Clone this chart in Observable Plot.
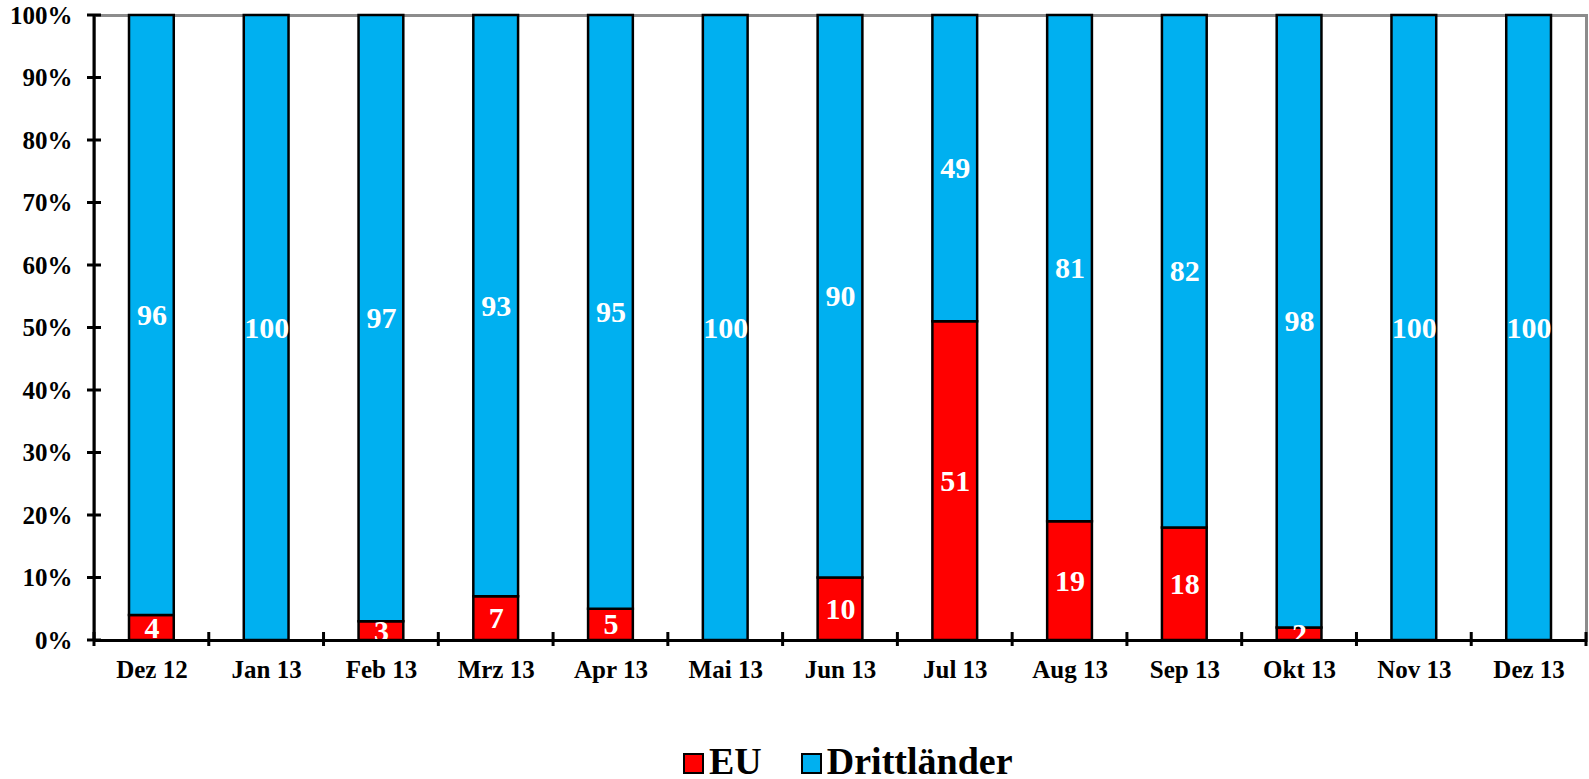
<!DOCTYPE html>
<html>
<head>
<meta charset="utf-8">
<script src="https://cdn.jsdelivr.net/npm/d3@7"></script>
<script src="https://cdn.jsdelivr.net/npm/@observablehq/plot@0.6"></script>
<style>
  html, body { margin: 0; padding: 0; background: #fff; }
  #wrap { position: relative; width: 1589px; height: 779px; font-family: "Liberation Serif", "Times New Roman", serif; }
  #legend { position: absolute; top: 742px; left: 683px; font-size: 38px; line-height: 38px; font-weight: bold; white-space: nowrap; color: #000; }
  #legend .sw { display: inline-block; width: 17px; height: 17px; border: 2.5px solid #000; vertical-align: baseline; margin-right: 5px; }
  #legend .item { display: inline-block; margin-right: 39px; }
</style>
</head>
<body>
<div id="wrap">
  <div id="chart"></div>
  <div id="legend"></div>
</div>
<script>
const months = ["Dez 12", "Jan 13", "Feb 13", "Mrz 13", "Apr 13", "Mai 13", "Jun 13", "Jul 13", "Aug 13", "Sep 13", "Okt 13", "Nov 13", "Dez 13"];
const euValues = [4, 0, 3, 7, 5, 0, 10, 51, 19, 18, 2, 0, 0];
const drittValues = [96, 100, 97, 93, 95, 100, 90, 49, 81, 82, 98, 100, 100];
const seriesNames = ["EU", "Drittländer"];
const seriesColors = ["#FF0000", "#00B0F0"];
const yTicks = [0, 10, 20, 30, 40, 50, 60, 70, 80, 90, 100];

const data = months.flatMap((m, i) => [
  {month: m, series: "EU", value: euValues[i]},
  {month: m, series: "Drittländer", value: drittValues[i]}
]);

const chart = Plot.plot({
  width: 1589,
  height: 700,
  marginLeft: 94,
  marginRight: 3,
  marginTop: 15,
  marginBottom: 60,
  style: {fontFamily: '"Liberation Serif", "Times New Roman", serif', background: "#fff", color: "#000"},
  x: {domain: months, paddingInner: 0.61, paddingOuter: 0.305, round: false, label: null},
  y: {domain: [0, 100], label: null},
  color: {domain: seriesNames, range: seriesColors},
  marks: [
    Plot.frame({stroke: "#8c8c8c", strokeWidth: 3}),
    Plot.barY(data, {x: "month", y: "value", fill: "series", z: "series", stroke: "black", strokeWidth: 2.5}),
    Plot.text(data, Plot.stackY({
      x: "month", y: "value", z: "series",
      text: d => d.value > 0 ? String(d.value) : "",
      fill: "white", fontSize: 30, fontWeight: "bold"
    })),
    Plot.ruleY([0], {stroke: "black", strokeWidth: 3}),
    Plot.axisY({ticks: yTicks, tickFormat: d => d + "%", tickSize: 0, tickPadding: 22, fontSize: 25, fontWeight: "bold", label: null}),
    Plot.axisX({tickSize: 0, tickPadding: 20, fontSize: 25, fontWeight: "bold", label: null})
  ]
});

document.getElementById("chart").appendChild(chart);

// Axis line and crossing ticks, positioned from the chart's own scales
const xs = chart.scale("x");
const ys = chart.scale("y");
const svg = d3.select(chart);
const g = svg.append("g").attr("stroke", "black").attr("stroke-width", 3);
const left = xs.range[0];
const y0 = ys.apply(0);
g.append("line").attr("x1", left).attr("x2", left).attr("y1", ys.apply(100)).attr("y2", y0);
yTicks.forEach(t => {
  const yy = ys.apply(t);
  g.append("line").attr("x1", left - 7).attr("x2", left + 7).attr("y1", yy).attr("y2", yy);
});
for (let i = 0; i <= months.length; i++) {
  const xx = left + i * xs.step;
  g.append("line").attr("x1", xx).attr("x2", xx).attr("y1", y0 - 8).attr("y2", y0 + 6);
}

// Legend
const legend = d3.select("#legend");
seriesNames.forEach((name, i) => {
  const item = legend.append("span").attr("class", "item");
  item.append("span").attr("class", "sw").style("background", seriesColors[i]);
  item.append("span").text(name);
});
</script>
</body>
</html>
